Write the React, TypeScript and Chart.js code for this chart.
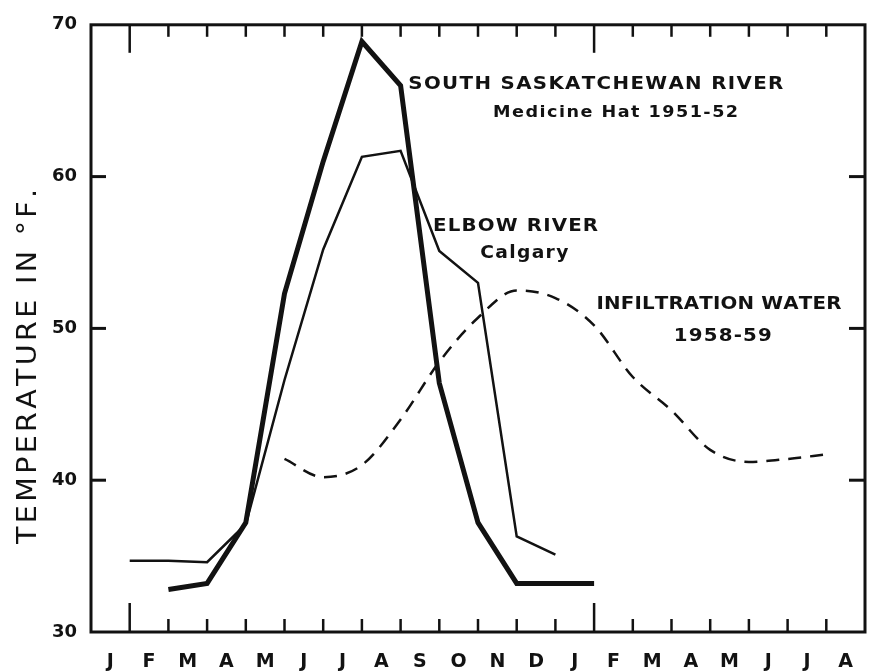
import React, { useEffect, useRef } from 'react';
import { Chart, registerables } from 'chart.js';

Chart.register(...registerables);

// ---- data ----
const monthLabels = ['J', 'F', 'M', 'A', 'M', 'J', 'J', 'A', 'S', 'O', 'N', 'D', 'J', 'F', 'M', 'A', 'M', 'J', 'J', 'A'];
const yTickValues = [30, 40, 50, 60, 70];

// month boundary index (0 = start of first J) and temperature °F
const southSaskMonth = [2, 3, 4, 5, 6, 7, 8, 9, 10, 11, 12, 13];
const southSaskTemp = [32.8, 33.2, 37.2, 52.3, 61.0, 68.9, 66.0, 46.4, 37.2, 33.2, 33.2, 33.2];

const elbowMonth = [1, 2, 3, 4, 5, 6, 7, 8, 9, 10, 11, 12];
const elbowTemp = [34.7, 34.7, 34.6, 37.1, 46.6, 55.2, 61.3, 61.7, 55.1, 53.0, 36.3, 35.1];

const infiltrationMonth = [5, 6, 7, 8, 9, 10, 11, 12, 13, 14, 15, 16, 17, 18, 19];
const infiltrationTemp = [41.4, 40.2, 41.0, 44.0, 47.8, 50.7, 52.5, 52.0, 50.2, 46.8, 44.6, 42.0, 41.2, 41.4, 41.7];

const tickMonths = [1, 2, 3, 4, 5, 6, 7, 8, 9, 10, 11, 12, 13, 14, 15, 16, 17, 18, 19];
const longTickMonths = [1, 13];

const yAxisTitle = 'TEMPERATURE IN °F.';
const annotationTexts = [
  'SOUTH SASKATCHEWAN RIVER',
  'Medicine Hat 1951-52',
  'ELBOW RIVER',
  'Calgary',
  'INFILTRATION WATER',
  '1958-59',
];

const FONT = '"DejaVu Sans", "Liberation Sans", sans-serif';
const INK = '#121212';

// placement of annotation texts (data coords for left edge / vertical centre, px width)
const annotationLayout = [
  { x: 8.2, y: 66.1, width: 375, font: `bold 18px ${FONT}` },
  { x: 10.39, y: 64.2, width: 245, font: `bold 16px ${FONT}` },
  { x: 8.84, y: 56.7, width: 165, font: `bold 18px ${FONT}` },
  { x: 10.06, y: 54.9, width: 88, font: `bold 17px ${FONT}` },
  { x: 13.06, y: 51.6, width: 245, font: `bold 18px ${FONT}` },
  { x: 15.06, y: 49.5, width: 98, font: `bold 18px ${FONT}` },
];

function drawFitted(ctx: CanvasRenderingContext2D, text: string, x: number, y: number, width: number, stretch = 1) {
  const chars = Array.from(text);
  const widths = chars.map((c) => ctx.measureText(c).width * stretch);
  const total = widths.reduce((a, b) => a + b, 0);
  const gap = chars.length > 1 ? (width - total) / (chars.length - 1) : 0;
  let cx = x;
  chars.forEach((c, i) => {
    ctx.save();
    ctx.translate(cx, y);
    ctx.scale(stretch, 1);
    ctx.fillText(c, 0, 0);
    ctx.restore();
    cx += widths[i] + gap;
  });
}

function strokeSeg(ctx: CanvasRenderingContext2D, x1: number, y1: number, x2: number, y2: number) {
  ctx.beginPath();
  ctx.moveTo(x1, y1);
  ctx.lineTo(x2, y2);
  ctx.stroke();
}

const framePlugin = {
  id: 'frameAndTicks',
  afterDatasetsDraw(chart: any) {
    const { ctx, chartArea } = chart;
    const xs = chart.scales.x;
    const ys = chart.scales.y;
    const { left, right, top, bottom } = chartArea;
    ctx.save();
    ctx.setLineDash([]);
    ctx.strokeStyle = INK;
    ctx.lineCap = 'butt';
    ctx.lineWidth = 3;
    ctx.strokeRect(left, top, right - left, bottom - top);
    ctx.lineWidth = 2.5;
    tickMonths.forEach((m) => {
      const px = xs.getPixelForValue(m);
      const len = longTickMonths.indexOf(m) >= 0 ? 29 : 13;
      strokeSeg(ctx, px, bottom, px, bottom - len);
      strokeSeg(ctx, px, top, px, top + len - 1);
    });
    ctx.lineWidth = 3;
    yTickValues.slice(1, -1).forEach((v) => {
      const py = ys.getPixelForValue(v);
      strokeSeg(ctx, left, py, left + 15, py);
      strokeSeg(ctx, right, py, right - 16, py);
    });
    ctx.restore();
  },
  afterDraw(chart: any) {
    const { ctx, chartArea } = chart;
    const xs = chart.scales.x;
    const ys = chart.scales.y;
    ctx.save();
    ctx.fillStyle = INK;
    ctx.textBaseline = 'middle';
    ctx.textAlign = 'left';
    annotationTexts.forEach((t, i) => {
      const l = annotationLayout[i];
      ctx.font = l.font;
      drawFitted(ctx, t, xs.getPixelForValue(l.x), ys.getPixelForValue(l.y), l.width, 1.1);
    });
    // y-axis title
    ctx.font = `26px ${FONT}`;
    const len = 355;
    const cy = (chartArea.top + chartArea.bottom) / 2 + 38;
    ctx.translate(29, cy);
    ctx.rotate(-Math.PI / 2);
    drawFitted(ctx, yAxisTitle, -len / 2, 0, len, 1.1);
    ctx.restore();
  },
};

export default function App() {
  const canvasRef = useRef<HTMLCanvasElement | null>(null);

  useEffect(() => {
    if (!canvasRef.current) return;
    const toPts = (xsArr: number[], ysArr: number[]) => xsArr.map((x, i) => ({ x, y: ysArr[i] }));
    const chart = new Chart(canvasRef.current, {
      type: 'line',
      data: {
        datasets: [
          {
            label: 'South Saskatchewan River, Medicine Hat 1951-52',
            data: toPts(southSaskMonth, southSaskTemp),
            borderColor: INK,
            borderWidth: 5,
            pointRadius: 0,
            tension: 0,
            fill: false,
          },
          {
            label: 'Elbow River, Calgary',
            data: toPts(elbowMonth, elbowTemp),
            borderColor: INK,
            borderWidth: 2.5,
            pointRadius: 0,
            tension: 0,
            fill: false,
          },
          {
            label: 'Infiltration water 1958-59',
            data: toPts(infiltrationMonth, infiltrationTemp),
            borderColor: INK,
            borderWidth: 2.5,
            borderDash: [13, 9],
            pointRadius: 0,
            cubicInterpolationMode: 'monotone',
            fill: false,
          },
        ],
      },
      options: {
        animation: false,
        responsive: false,
        maintainAspectRatio: false,
        layout: { padding: { top: 16, right: 15, left: 0, bottom: 0 } },
        plugins: {
          legend: { display: false },
          tooltip: { enabled: false },
          title: { display: false },
        },
        scales: {
          x: {
            type: 'linear',
            min: 0,
            max: monthLabels.length,
            grid: { display: false },
            border: { display: false },
            afterBuildTicks: (s: any) => {
              s.ticks = monthLabels.map((_, i) => ({ value: i + 0.5 }));
            },
            afterFit: (s: any) => {
              s.height = 40;
            },
            ticks: {
              autoSkip: false,
              maxRotation: 0,
              padding: 11,
              color: INK,
              font: { family: FONT, size: 19, weight: 'bold' },
              callback: (v: any) => monthLabels[Math.floor(Number(v))],
            },
          },
          y: {
            type: 'linear',
            min: 30,
            max: 70,
            grid: { display: false, drawTicks: false },
            border: { display: false },
            afterBuildTicks: (s: any) => {
              s.ticks = yTickValues.map((v) => ({ value: v }));
            },
            afterFit: (s: any) => {
              s.width = 91;
            },
            ticks: {
              padding: 14,
              color: INK,
              font: { family: FONT, size: 18, weight: 'bold' },
            },
          },
        },
      },
      plugins: [framePlugin],
    } as any);
    return () => chart.destroy();
  }, []);

  return (
    <div style={{ position: 'fixed', left: 0, top: 0, width: 880, height: 672, background: '#fff' }}>
      <canvas ref={canvasRef} width={880} height={672} style={{ width: 880, height: 672, display: 'block' }} />
    </div>
  );
}
